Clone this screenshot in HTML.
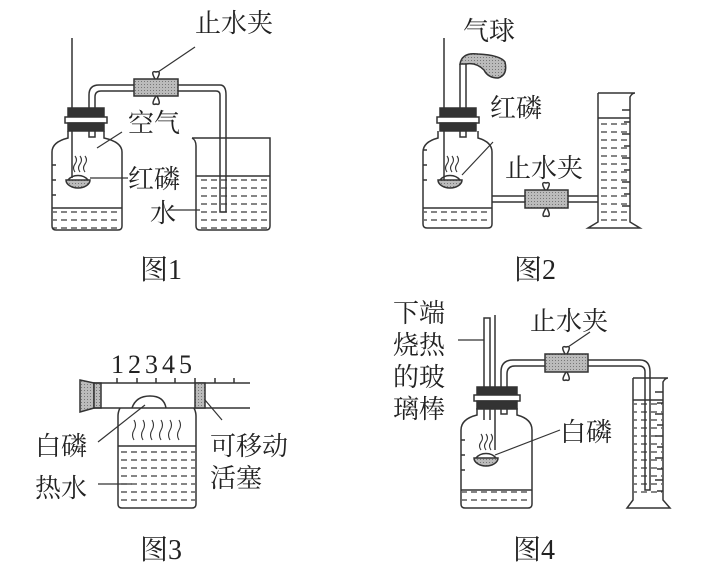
<!DOCTYPE html>
<html><head><meta charset="utf-8"><style>
html,body{margin:0;padding:0;background:#fff;}
svg{display:block}
text{font-family:"Liberation Serif","Noto Serif CJK SC","Noto Sans CJK SC",serif;fill:#222;}
</style></head><body>
<svg width="712" height="568" viewBox="0 0 712 568" xmlns="http://www.w3.org/2000/svg">
<defs>
<pattern id="dots" width="3" height="3" patternUnits="userSpaceOnUse"><rect width="3" height="3" fill="#bbb"/><rect width="1" height="1" fill="#777"/></pattern>
<pattern id="w" width="10" height="8" patternUnits="userSpaceOnUse"><line x1="1" y1="4" x2="7" y2="4" stroke="#333" stroke-width="1.2"/></pattern>
</defs>
<g fill="none" stroke="#333" stroke-width="1.5">
<!-- FIG 1 -->
<line x1="72" y1="38" x2="72" y2="178"/>
<path d="M68 131 L68 138 Q52 142 52 152 L52 226 Q52 230 56 230 L118 230 Q122 230 122 226 L122 152 Q122 142 104 138 L104 131"/>
<rect x="53" y="208" width="68" height="21" fill="url(#w)" stroke="none"/>
<line x1="52" y1="208" x2="122" y2="208"/>
<path d="M52 165h4M52 180h4M52 195h4"/>
<rect x="68" y="108" width="36" height="10" fill="#333"/>
<rect x="65" y="117" width="42" height="6" fill="#fff"/>
<rect x="68" y="123" width="36" height="8" fill="#333"/>
<path d="M89 131 L89 137 L95 137 L95 131"/>
<path d="M89 108 L89 95 Q89 85 99 85 L220 85 Q226 85 226 95 L226 212 L220 212 L220 95 Q220 91 216 91 L101 91 Q95 91 95 97 L95 108"/>
<rect x="134" y="79" width="44" height="17" fill="url(#dots)"/>
<path d="M155 79 Q150 70 156 72 Q162 70 157 79 M156 96 Q150 106 156 104 Q162 106 157 96"/>
<line x1="158" y1="72" x2="195" y2="47" stroke-width="1.2"/>
<path d="M66 180 A12 8 0 0 0 90 180 Z" fill="url(#dots)"/>
<path d="M68 180 A12 10 0 0 1 88 180"/>
<path d="M75 172 q-3 -4 0 -8 q3 -4 0 -8 M80 172 q-3 -4 0 -8 q3 -4 0 -8 M85 172 q-3 -4 0 -8 q3 -4 0 -8" stroke-width="1.1"/>
<line x1="90" y1="178" x2="128" y2="178" stroke-width="1.2"/>
<line x1="97" y1="148" x2="122" y2="132" stroke-width="1.2"/>
<path d="M192 138 Q196 140 196 146 L196 226 Q196 230 200 230 L266 230 Q270 230 270 226 L270 138 L192 138"/>
<rect x="197" y="176" width="72" height="53" fill="url(#w)" stroke="none"/>
<line x1="196" y1="176" x2="270" y2="176"/>
<line x1="168" y1="210" x2="200" y2="210" stroke-width="1.2"/>

<!-- FIG 2 -->
<line x1="444" y1="38" x2="444" y2="180"/>
<path d="M438 131 L438 138 Q423 142 423 152 L423 224 Q423 228 427 228 L488 228 Q492 228 492 224 L492 152 Q492 142 478 138 L478 131"/>
<rect x="424" y="208" width="67" height="19" fill="url(#w)" stroke="none"/>
<line x1="423" y1="208" x2="492" y2="208"/>
<path d="M423 150h4M423 165h4M423 180h4"/>
<rect x="440" y="108" width="36" height="10" fill="#333"/>
<rect x="437" y="117" width="42" height="6" fill="#fff"/>
<rect x="440" y="123" width="36" height="8" fill="#333"/>
<path d="M460 131 L460 137 L466 137 L466 131"/>
<path d="M460 108 L460 64 M466 108 L466 64"/>
<path d="M460 64 Q462 52 478 54 Q500 55 505 62 Q508 75 498 78 Q488 78 484 70 Q476 62 466 64 Z" fill="url(#dots)"/>
<path d="M438 180 A12 8 0 0 0 462 180 Z" fill="url(#dots)"/>
<path d="M440 180 A12 10 0 0 1 460 180"/>
<path d="M447 172 q-3 -4 0 -8 q3 -4 0 -8 M452 172 q-3 -4 0 -8 q3 -4 0 -8 M457 172 q-3 -4 0 -8 q3 -4 0 -8" stroke-width="1.1"/>
<line x1="462" y1="175" x2="493" y2="142" stroke-width="1.2"/>
<path d="M492 196 L598 196 M492 202 L598 202"/>
<rect x="525" y="190" width="43" height="18" fill="url(#dots)"/>
<path d="M545 190 Q540 181 546 183 Q552 181 547 190 M546 208 Q540 218 546 216 Q552 218 547 208"/>
<path d="M598 93 L598 222 L588 228 L640 228 L630 222 L630 97 Q632 93 635 93 L598 93"/>
<rect x="599" y="118" width="30" height="103" fill="url(#w)" stroke="none"/>
<line x1="598" y1="118" x2="630" y2="118"/>
<path d="M622 110h8M624 122h6M622 134h8M624 146h6M622 158h8M624 170h6M622 182h8M624 194h6M622 206h8"/>

<!-- FIG 3 -->
<path d="M80 380 L94 383 L94 408 L80 412 Z" fill="url(#dots)"/>
<rect x="94" y="383" width="7" height="25" fill="url(#dots)"/>
<line x1="94" y1="383" x2="250" y2="383"/>
<line x1="94" y1="408" x2="250" y2="408"/>
<path d="M117 383v-5M137 383v-5M156 383v-5M175 383v-5M195 383v-5M215 383v-5M234 383v-5"/>
<rect x="195" y="383" width="10" height="25" fill="url(#dots)"/>
<path d="M132 408 Q136 396 150 396 Q164 396 166 408"/>
<path d="M120 408 Q118 412 118 416 L118 504 Q118 508 122 508 L192 508 Q196 508 196 504 L196 416 Q196 412 194 408"/>
<rect x="119" y="446" width="76" height="61" fill="url(#w)" stroke="none"/>
<line x1="118" y1="446" x2="196" y2="446"/>
<path d="M134 440 q-3 -5 0 -10 q3 -5 0 -10 M143 440 q-3 -5 0 -10 q3 -5 0 -10 M152 440 q-3 -5 0 -10 q3 -5 0 -10 M161 440 q-3 -5 0 -10 q3 -5 0 -10 M170 440 q-3 -5 0 -10 q3 -5 0 -10 M179 440 q-3 -5 0 -10 q3 -5 0 -10" stroke-width="1.1"/>
<line x1="98" y1="442" x2="145" y2="405" stroke-width="1.2"/>
<line x1="205" y1="400" x2="222" y2="420" stroke-width="1.2"/>
<line x1="98" y1="484" x2="132" y2="484" stroke-width="1.2"/>

<!-- FIG 4 -->
<path d="M484 420 L484 318 L490 318 L490 420"/>
<line x1="458" y1="340" x2="484" y2="340" stroke-width="1.2"/>
<line x1="495" y1="315" x2="495" y2="450"/>
<path d="M477 408 L477 415 Q461 419 461 430 L461 504 Q461 508 465 508 L528 508 Q532 508 532 504 L532 430 Q532 419 517 415 L517 408"/>
<rect x="462" y="490" width="69" height="17" fill="url(#w)" stroke="none"/>
<line x1="461" y1="490" x2="532" y2="490"/>
<path d="M461 440h4M461 455h4M461 470h4"/>
<rect x="477" y="387" width="40" height="9" fill="#333"/>
<rect x="474" y="395" width="46" height="6" fill="#fff"/>
<rect x="477" y="401" width="40" height="8" fill="#333"/>
<path d="M501 409 L501 414 L507 414 L507 409"/>
<path d="M501 387 L501 372 Q501 360 513 360 L640 360 Q650 360 650 372 L650 490 L645 490 L645 372 Q645 366 639 366 L515 366 Q507 366 507 374 L507 387"/>
<rect x="545" y="354" width="43" height="18" fill="url(#dots)"/>
<path d="M565 354 Q560 345 566 347 Q572 345 567 354 M566 372 Q560 382 566 380 Q572 382 567 372"/>
<line x1="568" y1="347" x2="590" y2="332" stroke-width="1.2"/>
<path d="M474 458 A12 8 0 0 0 498 458 Z" fill="url(#dots)"/>
<path d="M476 458 A12 10 0 0 1 496 458"/>
<path d="M481 450 q-3 -4 0 -8 q3 -4 0 -8 M486 450 q-3 -4 0 -8 q3 -4 0 -8 M491 450 q-3 -4 0 -8 q3 -4 0 -8" stroke-width="1.1"/>
<line x1="495" y1="455" x2="560" y2="430" stroke-width="1.2"/>
<path d="M633 378 L633 500 L627 508 L670 508 L663 500 L663 382 Q665 378 668 378 L633 378"/>
<rect x="634" y="400" width="28" height="99" fill="url(#w)" stroke="none"/>
<line x1="633" y1="400" x2="663" y2="400"/>
<path d="M655 392h8M657 403h6M655 414h8M657 425h6M655 436h8M657 447h6M655 458h8M657 469h6M655 480h8M657 491h6"/>
</g>

<g font-size="26">
<text x="195" y="32">止水夹</text>
<text x="128" y="132">空气</text>
<text x="128" y="188">红磷</text>
<text x="150" y="222">水</text>
<text x="140" y="279" font-size="28">图1</text>
<text x="463" y="40">气球</text>
<text x="490" y="117">红磷</text>
<text x="505" y="177">止水夹</text>
<text x="514" y="279" font-size="28">图2</text>
<text x="111" y="373" font-size="26" letter-spacing="4">12345</text>
<text x="35" y="455">白磷</text>
<text x="35" y="497">热水</text>
<text x="210" y="455">可移动</text>
<text x="210" y="487">活塞</text>
<text x="140" y="559" font-size="28">图3</text>
<text x="393" y="322">下端</text>
<text x="393" y="354">烧热</text>
<text x="393" y="386">的玻</text>
<text x="393" y="418">璃棒</text>
<text x="530" y="330">止水夹</text>
<text x="560" y="441">白磷</text>
<text x="513" y="559" font-size="28">图4</text>
</g>
</svg>
</body></html>
